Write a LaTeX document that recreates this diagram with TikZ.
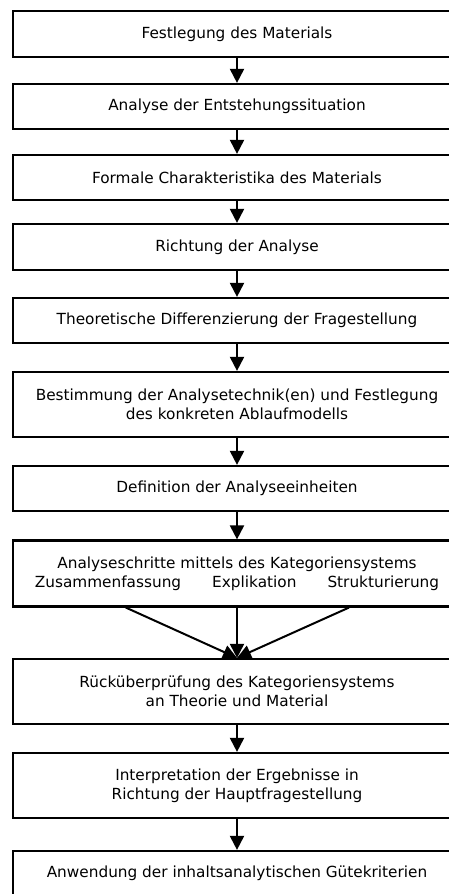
\documentclass[tikz,border=0pt]{standalone}
\usepackage{fontspec}
\setmainfont{DejaVu Sans}
\usetikzlibrary{arrows.meta}

\tikzset{
  stepbox/.style={draw, line width=2.2pt, minimum width=448pt, inner sep=0pt,
    align=center, font=\fontsize{15.3}{18.6}\selectfont},
  flow/.style={line width=2pt, -{Triangle[length=14pt, width=14pt]}}
}

\begin{document}
\begin{tikzpicture}[x=1pt, y=-1pt]
  \clip (0,0) rectangle (449,894);
  \fill[white] (0,0) rectangle (449,894);

  % process steps, top to bottom
  \node[stepbox, minimum height=46pt] (b1)  at (237,34)    {Festlegung des Materials};
  \node[stepbox, minimum height=45pt] (b2)  at (237,106.5) {Analyse der Entstehungssituation};
  \node[stepbox, minimum height=45pt] (b3)  at (237,177.5) {Formale Charakteristika des Materials};
  \node[stepbox, minimum height=46pt] (b4)  at (237,247)   {Richtung der Analyse};
  \node[stepbox, minimum height=45pt] (b5)  at (237,320.5) {Theoretische Differenzierung der Fragestellung};
  \node[stepbox, minimum height=65pt] (b6)  at (237,404.5) {Bestimmung der Analysetechnik(en) und Festlegung\\des konkreten Ablaufmodells};
  \node[stepbox, minimum height=45pt] (b7)  at (237,488.5) {Definition der Analyseeinheiten};
  \node[stepbox, minimum height=66pt] (b8)  at (237,573.5) {Analyseschritte mittels des Kategoriensystems\\Zusammenfassung\hspace{2.03em}Explikation\hspace{2.03em}Strukturierung};
  \node[stepbox, minimum height=65pt] (b9)  at (237,691.5) {Rücküberprüfung des Kategoriensystems\\an Theorie und Material};
  \node[stepbox, minimum height=65pt] (b10) at (237,785.5) {Interpretation der Ergebnisse in\\Richtung der Hauptfragestellung};
  \node[stepbox, minimum height=45pt] (b11) at (237,873.5) {Anwendung der inhaltsanalytischen Gütekriterien};

  % straight connectors
  \foreach \a/\b in {b1/b2, b2/b3, b3/b4, b4/b5, b5/b6, b6/b7, b7/b8, b8/b9, b9/b10, b10/b11}
    \draw[flow] (\a.south) -- (\b.north);

  % the two converging connectors from the outer techniques
  \coordinate (left)  at ([xshift=114pt]b8.south west);
  \coordinate (right) at ([xshift=337pt]b8.south west);
  \draw[flow] (left)  -- (b9.north);
  \draw[flow] (right) -- (b9.north);
\end{tikzpicture}
\end{document}
